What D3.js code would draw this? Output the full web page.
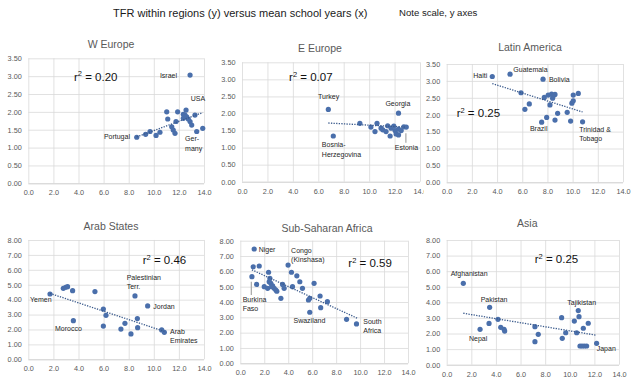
<!DOCTYPE html>
<html>
<head>
<meta charset="utf-8">
<script src="https://cdn.jsdelivr.net/npm/d3@7"></script>
<style>
  body { margin: 0; background: #fff; }
  svg { display: block; font-family: "Liberation Sans", Arial, sans-serif; }
</style>
</head>
<body>
<svg id="chart" width="636" height="378"></svg>
<script>
// mean school years (x) and total fertility rate (y), per region
const weSchool = [8.64, 9.35, 9.70, 10.18, 10.49, 11.03, 11.11, 11.43, 11.55, 11.69, 11.77, 11.90, 12.35, 12.35, 12.57, 12.49, 12.62, 12.75, 12.89, 13.02, 13.28, 13.42, 13.90, 12.89];
const weTfr    = [1.29, 1.37, 1.45, 1.34, 1.43, 2.00, 1.80, 1.58, 1.49, 1.40, 1.73, 2.00, 1.93, 1.82, 2.05, 1.91, 1.86, 1.80, 1.73, 1.63, 1.91, 1.45, 1.54, 3.03];

const eeSchool = [6.79, 7.18, 9.27, 10.14, 10.62, 10.46, 10.94, 11.07, 11.33, 11.46, 11.73, 11.65, 11.94, 12.04, 12.12, 12.31, 12.31, 12.52, 12.73, 12.92, 12.31];
const eeTfr    = [2.12, 1.34, 1.71, 1.60, 1.71, 1.47, 1.57, 1.52, 1.47, 1.64, 1.57, 1.34, 1.63, 1.50, 1.40, 1.37, 1.54, 1.50, 1.61, 1.60, 2.01];

const laSchool = [3.62, 5.03, 7.65, 5.90, 6.56, 6.21, 7.54, 7.94, 7.75, 8.06, 8.20, 8.33, 8.41, 8.60, 8.60, 8.81, 9.57, 9.84, 9.94, 10.05, 10.05, 10.45, 10.79, 8.45];
const laTfr    = [3.13, 3.20, 3.05, 2.65, 2.32, 2.16, 1.78, 1.92, 2.51, 2.58, 2.29, 2.61, 2.49, 2.60, 1.84, 2.04, 2.07, 1.81, 2.34, 2.41, 2.58, 2.63, 1.79, 2.55];

const arSchool = [1.73, 2.79, 2.98, 3.13, 3.53, 3.59, 5.31, 5.98, 6.19, 5.98, 8.50, 7.70, 7.38, 8.18, 8.69, 8.71, 9.51, 10.63, 10.84];
const arTfr    = [4.38, 4.76, 4.83, 4.87, 4.60, 2.59, 4.54, 3.37, 2.95, 2.23, 4.25, 2.41, 2.03, 1.70, 2.73, 2.12, 3.58, 1.97, 1.81];

const ssSchool = [1.16, 1.08, 1.58, 0.97, 1.36, 2.36, 2.47, 2.41, 2.55, 2.70, 2.83, 2.97, 2.00, 2.28, 3.39, 3.53, 3.66, 3.99, 4.27, 4.36, 4.72, 4.97, 5.19, 6.16, 5.69, 5.80, 6.66, 7.27, 5.80, 6.71, 8.87, 9.70, 2.62, 3.05];
const ssTfr    = [7.46, 6.30, 6.35, 5.65, 5.15, 5.94, 5.54, 5.32, 5.22, 5.06, 4.89, 4.78, 5.00, 4.89, 4.24, 5.15, 4.89, 6.41, 5.94, 5.00, 5.71, 5.32, 4.89, 5.22, 4.13, 4.24, 4.39, 4.02, 3.33, 3.63, 2.87, 2.57, 5.00, 4.70];

const asSchool = [1.35, 3.49, 2.71, 3.44, 4.17, 4.39, 4.66, 4.71, 7.17, 7.44, 7.17, 9.34, 9.39, 9.67, 10.37, 10.56, 10.69, 10.75, 11.10, 11.50, 10.83, 11.00, 11.18, 11.37, 12.18];
const asTfr    = [5.22, 3.68, 2.27, 2.65, 2.91, 2.40, 2.27, 2.16, 2.44, 1.95, 1.48, 3.02, 1.69, 2.05, 2.80, 2.05, 3.47, 3.08, 2.34, 2.66, 1.20, 1.20, 1.20, 1.20, 1.37];

// linear trendline ends [x, y] as drawn
const weTrend = [[8.64, 1.30], [13.90, 1.98]];
const eeTrend = [[6.79, 1.72], [12.92, 1.60]];
const laTrend = [[3.62, 2.92], [10.79, 2.08]];
const arTrend = [[1.73, 4.42], [10.84, 1.87]];
const ssTrend = [[0.97, 6.10], [9.80, 2.93]];
const asTrend = [[1.35, 3.30], [12.18, 1.89]];

const r2Values = ["0.20", "0.07", "0.25", "0.46", "0.59", "0.25"];
const regionNames = ["W Europe", "E Europe", "Latin America", "Arab States", "Sub-Saharan Africa", "Asia"];

const xTicks = [0, 2, 4, 6, 8, 10, 12, 14];
const yTicksTop = [0, 0.5, 1, 1.5, 2, 2.5, 3, 3.5];
const yTicksBottom = [0, 1, 2, 3, 4, 5, 6, 7, 8];

// country labels: [text, x, y, anchor] in data units
const weLabels = [["Israel", 11.85, 3.03, "end"], ["USA", 12.94, 2.38, "start"], ["Portugal", 8.10, 1.30, "end"], ["Ger-", 12.49, 1.24, "start"], ["many", 12.49, 0.98, "start"]];
const eeLabels = [["Turkey", 6.81, 2.49, "middle"], ["Georgia", 11.28, 2.30, "start"], ["Bosnia-", 6.28, 1.10, "start"], ["Herzegovina", 6.28, 0.80, "start"], ["Estonia", 12.02, 1.01, "start"]];
const laLabels = [["Haiti", 3.22, 3.17, "end"], ["Guatemala", 5.29, 3.34, "start"], ["Bolivia", 8.12, 3.05, "start"], ["Brazil", 6.61, 1.58, "start"], ["Trinidad &", 10.52, 1.57, "start"], ["Tobago", 10.52, 1.28, "start"]];
const arLabels = [["Yemen", 0.14, 4.02, "start"], ["Morocco", 2.13, 2.08, "start"], ["Palestinian", 7.84, 5.50, "start"], ["Terr.", 7.84, 4.91, "start"], ["Jordan", 9.96, 3.53, "start"], ["Arab", 11.29, 1.85, "start"], ["Emirates", 11.29, 1.23, "start"]];
const ssLabels = [["Niger", 1.53, 7.39, "start"], ["Congo", 4.24, 7.33, "start"], ["(Kinshasa)", 4.24, 6.74, "start"], ["Burkina", 0.20, 4.13, "start"], ["Faso", 0.20, 3.54, "start"], ["Swaziland", 4.44, 2.78, "start"], ["South", 10.27, 2.71, "start"], ["Africa", 10.27, 2.11, "start"]];
const asLabels = [["Afghanistan", 0.32, 5.82, "start"], ["Pakistan", 2.76, 4.15, "start"], ["Nepal", 1.81, 1.69, "start"], ["Tajikistan", 9.80, 3.98, "start"], ["Japan", 12.19, 1.01, "start"]];

// leader lines [x, y1, y2]
const eeLeaders = [[12.89, 1.42, 1.14]];
const ssLeaders = [[0.92, 5.32, 4.46]];

const svg = d3.select("#chart");

svg.append("text")
    .attr("x", 113).attr("y", 16.5)
    .attr("font-size", 11).attr("fill", "#1a1a1a")
    .text("TFR within regions (y) versus mean school years (x)");
svg.append("text")
    .attr("x", 399).attr("y", 16.2)
    .attr("font-size", 9.6).attr("fill", "#1a1a1a")
    .text("Note scale, y axes");

const panels = [
    {xs: weSchool, ys: weTfr, trend: weTrend, labels: weLabels, leaders: [], yTicks: yTicksTop, box: [0, 30, 212, 170], l: 28.3, r: 204, t: 58.3, b: 183.3, tx: 111, ty: 44, r2x: 3.64, r2y: 2.99},
    {xs: eeSchool, ys: eeTfr, trend: eeTrend, labels: eeLabels, leaders: eeLeaders, yTicks: yTicksTop, box: [212, 30, 212, 170], l: 242, r: 420, t: 62.3, b: 181.7, tx: 320, ty: 48, r2x: 3.70, r2y: 3.08},
    {xs: laSchool, ys: laTfr, trend: laTrend, labels: laLabels, leaders: [], yTicks: yTicksTop, box: [424, 30, 212, 170], l: 446.7, r: 623, t: 64, b: 182.3, tx: 530, ty: 47.3, r2x: 0.79, r2y: 2.06},
    {xs: arSchool, ys: arTfr, trend: arTrend, labels: arLabels, leaders: [], yTicks: yTicksBottom, box: [0, 205, 212, 173], l: 28.3, r: 204, t: 240, b: 359.3, tx: 111, ty: 226, r2x: 9.12, r2y: 6.66},
    {xs: ssSchool, ys: ssTfr, trend: ssTrend, labels: ssLabels, leaders: ssLeaders, yTicks: yTicksBottom, box: [212, 205, 212, 173], l: 240.3, r: 408, t: 240.7, b: 363.3, tx: 327, ty: 228, r2x: 9.02, r2y: 6.56},
    {xs: asSchool, ys: asTfr, trend: asTrend, labels: asLabels, leaders: [], yTicks: yTicksBottom, box: [424, 205, 212, 173], l: 446.7, r: 619, t: 240, b: 364.7, tx: 527.3, ty: 223.3, r2x: 7.15, r2y: 6.77}
];

panels.forEach((p, i) => {
    const g = svg.append("g");
    g.append("rect")
        .attr("x", p.box[0]).attr("y", p.box[1])
        .attr("width", p.box[2]).attr("height", p.box[3])
        .attr("fill", "#fff");

    const x = d3.scaleLinear().domain([0, 14]).range([p.l, p.r]);
    const yMax = p.yTicks[p.yTicks.length - 1];
    const y = d3.scaleLinear().domain([0, yMax]).range([p.b, p.t]);
    const w = p.r - p.l, h = p.b - p.t;
    const yFmt = d3.format(".2f"), xFmt = d3.format(".1f");

    const yAxis = g.append("g")
        .attr("transform", `translate(${p.l},0)`)
        .call(d3.axisLeft(y).tickValues(p.yTicks).tickSize(-w).tickPadding(6.5).tickFormat(yFmt));
    const xAxis = g.append("g")
        .attr("transform", `translate(0,${p.b})`)
        .call(d3.axisBottom(x).tickValues(xTicks).tickSize(-h).tickPadding(7).tickFormat(xFmt));
    [yAxis, xAxis].forEach(a => {
        a.select(".domain").remove();
        a.selectAll("line").attr("stroke", "#d9d9d9").attr("stroke-width", 0.8);
        a.selectAll("text").attr("font-size", 7.3).attr("fill", "#595959")
            .attr("font-family", "Liberation Sans, Arial, sans-serif");
    });
    yAxis.selectAll(".tick").filter(d => d === 0).select("line").attr("stroke", "#bfbfbf");

    g.append("text")
        .attr("x", p.tx).attr("y", p.ty).attr("dy", "0.35em")
        .attr("text-anchor", "middle")
        .attr("font-size", 10.5).attr("fill", "#595959")
        .text(regionNames[i]);

    g.selectAll(".leader").data(p.leaders).enter().append("line")
        .attr("x1", d => x(d[0])).attr("x2", d => x(d[0]))
        .attr("y1", d => y(d[1])).attr("y2", d => y(d[2]))
        .attr("stroke", "#a6a6a6").attr("stroke-width", 1.2);

    g.selectAll("circle").data(d3.zip(p.xs, p.ys)).enter().append("circle")
        .attr("cx", d => x(d[0]))
        .attr("cy", d => y(d[1]))
        .attr("r", 2.6)
        .attr("fill", "#4a6fab");

    g.append("path")
        .attr("d", d3.line().x(d => x(d[0])).y(d => y(d[1]))(p.trend))
        .attr("fill", "none")
        .attr("stroke", "#3a5a8c")
        .attr("stroke-width", 1.3)
        .attr("stroke-dasharray", "1.3,1.3");

    g.selectAll(".lbl").data(p.labels).enter().append("text")
        .attr("x", d => x(d[1])).attr("y", d => y(d[2]))
        .attr("dy", "0.35em")
        .attr("text-anchor", d => d[3])
        .attr("font-size", 7).attr("fill", "#262626")
        .text(d => d[0]);

    const r2 = g.append("text")
        .attr("x", x(p.r2x)).attr("y", y(p.r2y)).attr("dy", "0.35em")
        .attr("font-size", 11.5).attr("fill", "#111");
    r2.append("tspan").text("r");
    r2.append("tspan").attr("font-size", 7.5).attr("dy", "-0.55em").text("2");
    r2.append("tspan").attr("dy", "0.36em").text(" = " + r2Values[i]);
});
</script>
</body>
</html>
